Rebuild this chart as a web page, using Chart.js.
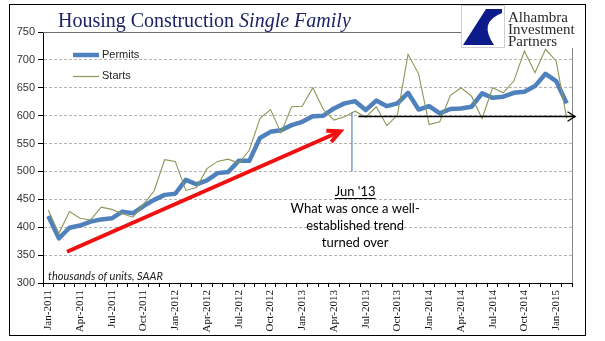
<!DOCTYPE html>
<html>
<head>
<meta charset="utf-8">
<script src="https://cdn.jsdelivr.net/npm/chart.js@4"></script>
<style>
  html, body { margin: 0; padding: 0; background: #fff; }
  canvas { display: block; }
</style>
</head>
<body>
<canvas id="c" width="605" height="341"></canvas>
<script>
// ---- data ----
const months = [
  'Jan-2011','Feb-2011','Mar-2011','Apr-2011','May-2011','Jun-2011','Jul-2011','Aug-2011','Sep-2011','Oct-2011','Nov-2011','Dec-2011',
  'Jan-2012','Feb-2012','Mar-2012','Apr-2012','May-2012','Jun-2012','Jul-2012','Aug-2012','Sep-2012','Oct-2012','Nov-2012','Dec-2012',
  'Jan-2013','Feb-2013','Mar-2013','Apr-2013','May-2013','Jun-2013','Jul-2013','Aug-2013','Sep-2013','Oct-2013','Nov-2013','Dec-2013',
  'Jan-2014','Feb-2014','Mar-2014','Apr-2014','May-2014','Jun-2014','Jul-2014','Aug-2014','Sep-2014','Oct-2014','Nov-2014','Dec-2014',
  'Jan-2015','Feb-2015'
];
const shownTicks = ['Jan-2011','Apr-2011','Jul-2011','Oct-2011','Jan-2012','Apr-2012','Jul-2012','Oct-2012',
  'Jan-2013','Apr-2013','Jul-2013','Oct-2013','Jan-2014','Apr-2014','Jul-2014','Oct-2014','Jan-2015'];
const permits = [420,380,399,403,410,414,416,428,425,438,449,458,
  460,485,477,484,497,499,519,519,560,571,574,583,
  589,599,600,613,622,626,610,627,617,622,641,611,
  617,604,612,613,616,640,632,634,641,643,653,675,
  662,622];
const starts = [431,389,428,416,413,436,432,424,418,441,465,521,
  518,466,471,505,518,522,515,538,595,611,569,616,
  617,650,611,592,598,608,597,616,582,601,710,675,
  584,589,636,650,635,595,650,641,662,716,677,719,
  698,595];
const yTicks = [300,350,400,450,500,550,600,650,700,750];

// annotation anchors in data space: [category index, value]
const trendArrow = { from: [1.77, 356], to: [27.6, 572] };
const flatArrow = { from: [29.3, 600], to: [49.8, 600] };
const junMarker = { x: 28.7, top: 606, bottom: 500 };
const noteAnchor = [29, 0];

function arrowHead(ctx, x1, y1, x2, y2, len, ang) {
  const a = Math.atan2(y2 - y1, x2 - x1);
  ctx.beginPath();
  ctx.moveTo(x2 - len * Math.cos(a - ang), y2 - len * Math.sin(a - ang));
  ctx.lineTo(x2, y2);
  ctx.lineTo(x2 - len * Math.cos(a + ang), y2 - len * Math.sin(a + ang));
  ctx.stroke();
}

const overlay = {
  id: 'overlay',
  beforeDraw(chart) {
    const ctx = chart.ctx;
    ctx.save();
    ctx.fillStyle = '#fff';
    ctx.fillRect(0, 0, chart.width, chart.height);
    ctx.restore();
  },
  afterDraw(chart) {
    const ctx = chart.ctx;
    const xs = chart.scales.x, ys = chart.scales.y;
    const ca = chart.chartArea;
    const px = i => xs.getPixelForValue(i);
    const py = v => ys.getPixelForValue(v);
    ctx.save();

    // plot right border
    ctx.strokeStyle = '#8a8a8a';
    ctx.lineWidth = 1;
    ctx.beginPath();
    ctx.moveTo(Math.round(ca.right) + 0.5, 48);
    ctx.lineTo(Math.round(ca.right) + 0.5, ca.bottom);
    ctx.stroke();

    // red trend arrow
    ctx.strokeStyle = '#f01010';
    ctx.lineWidth = 4;
    ctx.lineCap = 'butt';
    const rx1 = px(trendArrow.from[0]), ry1 = py(trendArrow.from[1]);
    const rx2 = px(trendArrow.to[0]), ry2 = py(trendArrow.to[1]);
    ctx.beginPath();
    ctx.moveTo(rx1, ry1);
    ctx.lineTo(rx2 - 2, ry2 + 1);
    ctx.stroke();
    ctx.lineJoin = 'miter';
    arrowHead(ctx, rx1, ry1, rx2, ry2, 14, 0.45);

    // black flat arrow
    ctx.strokeStyle = '#000';
    ctx.lineWidth = 1.3;
    const bx1 = px(flatArrow.from[0]), by = Math.round(py(flatArrow.from[1])) + 0.5;
    const bx2 = px(flatArrow.to[0]);
    ctx.beginPath();
    ctx.moveTo(bx1, by);
    ctx.lineTo(bx2, by);
    ctx.stroke();
    arrowHead(ctx, bx1, by, bx2, by, 9, 0.55);

    // blue Jun '13 marker
    ctx.strokeStyle = '#5a86c0';
    ctx.lineWidth = 1.2;
    const mx = px(junMarker.x);
    ctx.beginPath();
    ctx.moveTo(mx, py(junMarker.top));
    ctx.lineTo(mx, py(junMarker.bottom));
    ctx.stroke();

    // annotation text
    const nx = px(noteAnchor[0]);
    ctx.fillStyle = '#000';
    ctx.strokeStyle = '#000';
    ctx.textAlign = 'center';
    ctx.textBaseline = 'alphabetic';
    ctx.font = '13px Lato, "Liberation Sans", sans-serif';
    ctx.fillText("Jun '13", nx, 196);
    const w = ctx.measureText("Jun '13").width;
    ctx.lineWidth = 1;
    ctx.beginPath();
    ctx.moveTo(nx - w / 2, 198.5);
    ctx.lineTo(nx + w / 2, 198.5);
    ctx.stroke();
    ctx.fillText('What was once a well-', nx, 213);
    ctx.fillText('established trend', nx, 230);
    ctx.fillText('turned over', nx, 247);

    // units note
    ctx.textAlign = 'left';
    ctx.fillStyle = '#222';
    ctx.font = 'italic 11px Lato, "Liberation Sans", sans-serif';
    ctx.fillText('thousands of units, SAAR', 48, 280);

    // legend
    ctx.font = '11px "Liberation Sans", Arial, sans-serif';
    ctx.textBaseline = 'middle';
    ctx.strokeStyle = '#4f81bd';
    ctx.lineWidth = 4.5;
    ctx.beginPath(); ctx.moveTo(73, 55); ctx.lineTo(99, 55); ctx.stroke();
    ctx.fillStyle = '#222';
    ctx.fillText('Permits', 102, 55);
    ctx.strokeStyle = '#8d9658';
    ctx.lineWidth = 1.2;
    ctx.beginPath(); ctx.moveTo(73, 76.5); ctx.lineTo(99, 76.5); ctx.stroke();
    ctx.fillText('Starts', 102, 76);

    // title
    ctx.textBaseline = 'alphabetic';
    ctx.fillStyle = '#1c2366';
    ctx.font = '20px "Liberation Serif", "Times New Roman", serif';
    const t1 = 'Housing Construction ';
    ctx.fillText(t1, 58, 27);
    const t1w = ctx.measureText(t1).width;
    ctx.font = 'italic 20px "Liberation Serif", "Times New Roman", serif';
    ctx.fillText('Single Family', 58 + t1w, 27);
    ctx.strokeStyle = '#6e6e6e';
    ctx.lineWidth = 1;
    ctx.beginPath(); ctx.moveTo(ca.left, 32.5); ctx.lineTo(461, 32.5); ctx.stroke();

    // logo block
    ctx.fillStyle = '#fff';
    ctx.fillRect(461, 3, 125, 45);
    ctx.strokeStyle = '#cfcfcf';
    ctx.strokeRect(461.5, 5.5, 43, 42);
    ctx.fillStyle = '#0c1a8a';
    ctx.beginPath();
    ctx.moveTo(486, 9);
    ctx.lineTo(502, 9);
    ctx.lineTo(502, 13);
    ctx.quadraticCurveTo(478, 22, 494, 45);
    ctx.lineTo(463, 45);
    ctx.closePath();
    ctx.fill();
    ctx.fillStyle = '#2a2a2a';
    ctx.font = '15px "Liberation Serif", "Times New Roman", serif';
    ctx.fillText('Alhambra', 508, 22);
    ctx.fillText('Investment', 508, 34);
    ctx.fillText('Partners', 508, 46);

    // outer frame
    ctx.strokeStyle = '#000';
    ctx.lineWidth = 1;
    ctx.strokeRect(9.5, 4.5, 576, 331);
    ctx.restore();
  }
};

new Chart(document.getElementById('c'), {
  type: 'line',
  data: {
    labels: months,
    datasets: [
      { label: 'Permits', data: permits, borderColor: '#4f81bd', borderWidth: 4.5, pointRadius: 0, tension: 0, order: 2, borderJoinStyle: 'round' },
      { label: 'Starts', data: starts, borderColor: '#8d9658', borderWidth: 1.1, pointRadius: 0, tension: 0, order: 1 }
    ]
  },
  options: {
    responsive: false,
    animation: false,
    devicePixelRatio: 1,
    layout: { padding: { left: 0, right: 33, top: 32, bottom: 0 } },
    plugins: { legend: { display: false }, tooltip: { enabled: false }, title: { display: false } },
    scales: {
      x: {
        type: 'category',
        offset: true,
        grid: { offset: true, drawOnChartArea: false, drawTicks: true, tickLength: 4, tickColor: '#000', color: '#000' },
        border: { color: '#000', width: 1 },
        ticks: {
          autoSkip: false, minRotation: 90, maxRotation: 90, padding: 3,
          color: '#111',
          font: { family: '"Liberation Serif", "Times New Roman", serif', size: 11 },
          callback: (v, i) => shownTicks.includes(months[i]) ? months[i] : ''
        },
        afterFit: s => { s.height = 58; }
      },
      y: {
        min: 300, max: 750,
        afterBuildTicks: s => { s.ticks = yTicks.map(v => ({ value: v })); },
        grid: {
          color: c => (c.tick && (c.tick.value === 300 || c.tick.value === 750)) ? 'rgba(0,0,0,0)' : '#b4b4b4',
          tickColor: '#000', tickLength: 5, drawTicks: true
        },
        border: { color: '#000', width: 1, dash: [3, 2] },
        ticks: {
          padding: 3, color: '#333',
          font: { family: '"Liberation Sans", Arial, sans-serif', size: 11 }
        },
        afterFit: s => { s.width = 43; }
      }
    }
  },
  plugins: [overlay]
});
</script>
</body>
</html>
